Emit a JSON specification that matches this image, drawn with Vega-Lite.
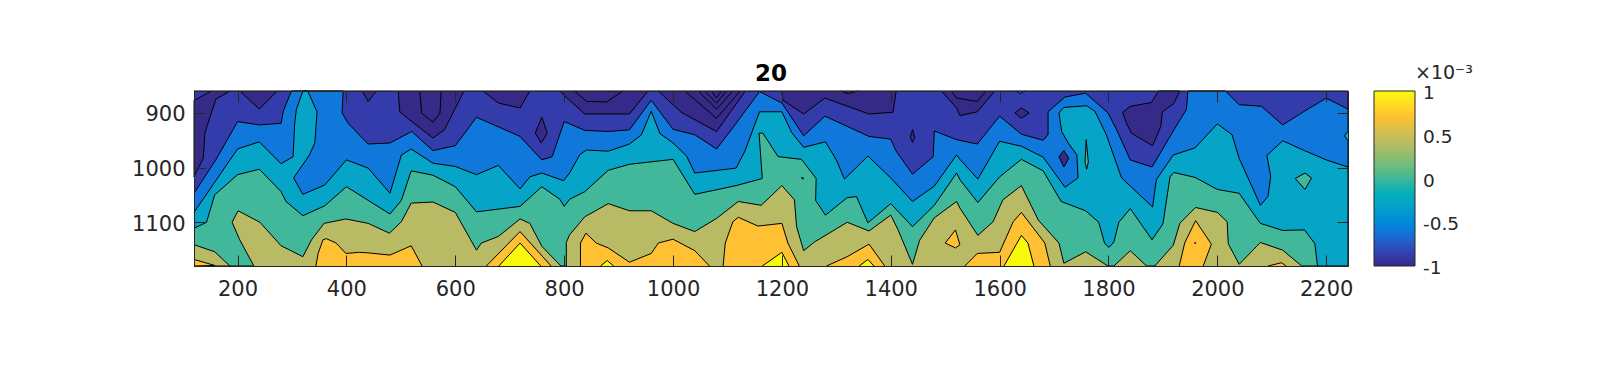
{"$schema":"https://vega.github.io/schema/vega-lite/v6.json","width":1154,"height":175,"autosize":{"type":"none"},"padding":{"left":194,"top":91,"right":249,"bottom":103},"background":"white",
"title":{"text":"20","font":"DejaVu Sans","fontSize":23,"fontWeight":"bold","color":"#000000","offset":-22},
"config":{"view":{"stroke":null},"axis":{"labelFont":"DejaVu Sans","labelColor":"#262626","domainColor":"#262626","tickColor":"#262626","grid":false,"title":null,"ticks":true,"tickWidth":1}},
"layer":[{"data":{"values":[
{"p":"bg","l":-0.88,"i":0,"x":120,"y":860},{"p":"bg","l":-0.88,"i":1,"x":2240,"y":860},{"p":"bg","l":-0.88,"i":2,"x":2240,"y":1180},{"p":"bg","l":-0.88,"i":3,"x":120,"y":1180},
{"p":"n1","l":-1,"i":0,"x":152,"y":860},{"p":"n1","l":-1,"i":1,"x":120,"y":877},{"p":"n1","l":-1,"i":2,"x":120,"y":1017},{"p":"n1","l":-1,"i":3,"x":137,"y":983},{"p":"n1","l":-1,"i":4,"x":140,"y":937},{"p":"n1","l":-1,"i":5,"x":160,"y":875},{"p":"n1","l":-1,"i":6,"x":186,"y":860},
{"p":"n2","l":-1,"i":0,"x":204,"y":860},{"p":"n2","l":-1,"i":1,"x":240,"y":893},{"p":"n2","l":-1,"i":2,"x":273,"y":860},
{"p":"n3","l":-1,"i":0,"x":429,"y":860},{"p":"n3","l":-1,"i":1,"x":440,"y":879},{"p":"n3","l":-1,"i":2,"x":455,"y":860},
{"p":"n4","l":-1,"i":0,"x":495,"y":860},{"p":"n4","l":-1,"i":1,"x":498,"y":898},{"p":"n4","l":-1,"i":2,"x":519,"y":915},{"p":"n4","l":-1,"i":3,"x":559,"y":946},{"p":"n4","l":-1,"i":4,"x":580,"y":931},{"p":"n4","l":-1,"i":5,"x":616,"y":860},
{"p":"n4b","l":-1,"i":0,"x":535,"y":860},{"p":"n4b","l":-1,"i":1,"x":538,"y":900},{"p":"n4b","l":-1,"i":2,"x":559,"y":917},{"p":"n4b","l":-1,"i":3,"x":572,"y":900},{"p":"n4b","l":-1,"i":4,"x":574,"y":860},
{"p":"n5","l":-1,"i":0,"x":651,"y":860},{"p":"n5","l":-1,"i":1,"x":679,"y":882},{"p":"n5","l":-1,"i":2,"x":719,"y":891},{"p":"n5","l":-1,"i":3,"x":737,"y":860},
{"p":"n6","l":-1,"i":0,"x":759,"y":908},{"p":"n6","l":-1,"i":1,"x":769,"y":937},{"p":"n6","l":-1,"i":2,"x":758,"y":955},{"p":"n6","l":-1,"i":3,"x":747,"y":937},{"p":"n6","l":-1,"i":4,"x":759,"y":908},
{"p":"n7","l":-1,"i":0,"x":792,"y":860},{"p":"n7","l":-1,"i":1,"x":810,"y":877},{"p":"n7","l":-1,"i":2,"x":838,"y":902},{"p":"n7","l":-1,"i":3,"x":920,"y":902},{"p":"n7","l":-1,"i":4,"x":954,"y":860},
{"p":"n7b","l":-1,"i":0,"x":819,"y":860},{"p":"n7b","l":-1,"i":1,"x":841,"y":879},{"p":"n7b","l":-1,"i":2,"x":878,"y":880},{"p":"n7b","l":-1,"i":3,"x":908,"y":860},
{"p":"n8","l":-1,"i":0,"x":973,"y":860},{"p":"n8","l":-1,"i":1,"x":1015,"y":899},{"p":"n8","l":-1,"i":2,"x":1080,"y":934},{"p":"n8","l":-1,"i":3,"x":1133,"y":860},
{"p":"n8b","l":-1,"i":0,"x":1022,"y":860},{"p":"n8b","l":-1,"i":1,"x":1080,"y":910},{"p":"n8b","l":-1,"i":2,"x":1123,"y":860},
{"p":"n8c","l":-1,"i":0,"x":1046,"y":860},{"p":"n8c","l":-1,"i":1,"x":1080,"y":893},{"p":"n8c","l":-1,"i":2,"x":1110,"y":860},
{"p":"n8d","l":-1,"i":0,"x":1058,"y":860},{"p":"n8d","l":-1,"i":1,"x":1080,"y":882},{"p":"n8d","l":-1,"i":2,"x":1098,"y":860},
{"p":"n8e","l":-1,"i":0,"x":1071,"y":860},{"p":"n8e","l":-1,"i":1,"x":1080,"y":873},{"p":"n8e","l":-1,"i":2,"x":1089,"y":860},
{"p":"n9","l":-1,"i":0,"x":1200,"y":860},{"p":"n9","l":-1,"i":1,"x":1202,"y":877},{"p":"n9","l":-1,"i":2,"x":1240,"y":902},{"p":"n9","l":-1,"i":3,"x":1279,"y":873},{"p":"n9","l":-1,"i":4,"x":1360,"y":902},{"p":"n9","l":-1,"i":5,"x":1404,"y":899},{"p":"n9","l":-1,"i":6,"x":1410,"y":860},
{"p":"n9b","l":-1,"i":0,"x":1309,"y":860},{"p":"n9b","l":-1,"i":1,"x":1322,"y":865},{"p":"n9b","l":-1,"i":2,"x":1340,"y":860},
{"p":"n10","l":-1,"i":0,"x":1440,"y":931},{"p":"n10","l":-1,"i":1,"x":1444,"y":945},{"p":"n10","l":-1,"i":2,"x":1440,"y":954},{"p":"n10","l":-1,"i":3,"x":1436,"y":945},{"p":"n10","l":-1,"i":4,"x":1440,"y":931},
{"p":"n11","l":-1,"i":0,"x":1493,"y":860},{"p":"n11","l":-1,"i":1,"x":1521,"y":891},{"p":"n11","l":-1,"i":2,"x":1527,"y":905},{"p":"n11","l":-1,"i":3,"x":1559,"y":898},{"p":"n11","l":-1,"i":4,"x":1591,"y":860},
{"p":"n11b","l":-1,"i":0,"x":1511,"y":860},{"p":"n11b","l":-1,"i":1,"x":1521,"y":873},{"p":"n11b","l":-1,"i":2,"x":1559,"y":879},{"p":"n11b","l":-1,"i":3,"x":1575,"y":860},
{"p":"n12","l":-1,"i":0,"x":1628,"y":900},{"p":"n12","l":-1,"i":1,"x":1640,"y":891},{"p":"n12","l":-1,"i":2,"x":1654,"y":900},{"p":"n12","l":-1,"i":3,"x":1640,"y":910},{"p":"n12","l":-1,"i":4,"x":1628,"y":900},
{"p":"n13","l":-1,"i":0,"x":1826,"y":899},{"p":"n13","l":-1,"i":1,"x":1840,"y":888},{"p":"n13","l":-1,"i":2,"x":1879,"y":881},{"p":"n13","l":-1,"i":3,"x":1892,"y":860},{"p":"n13","l":-1,"i":4,"x":1931,"y":860},{"p":"n13","l":-1,"i":5,"x":1920,"y":883},{"p":"n13","l":-1,"i":6,"x":1899,"y":898},{"p":"n13","l":-1,"i":7,"x":1896,"y":925},{"p":"n13","l":-1,"i":8,"x":1881,"y":960},{"p":"n13","l":-1,"i":9,"x":1842,"y":937},{"p":"n13","l":-1,"i":10,"x":1833,"y":919},{"p":"n13","l":-1,"i":11,"x":1826,"y":899},
{"p":"bi","l":-0.6,"i":0,"x":1631,"y":860},{"p":"bi","l":-0.6,"i":1,"x":1638,"y":865},{"p":"bi","l":-0.6,"i":2,"x":1646,"y":860},
{"p":"b","l":-0.6,"i":0,"x":120,"y":1047},{"p":"b","l":-0.6,"i":1,"x":160,"y":986},{"p":"b","l":-0.6,"i":2,"x":200,"y":916},{"p":"b","l":-0.6,"i":3,"x":240,"y":922},{"p":"b","l":-0.6,"i":4,"x":280,"y":919},{"p":"b","l":-0.6,"i":5,"x":284,"y":897},{"p":"b","l":-0.6,"i":6,"x":299,"y":860},{"p":"b","l":-0.6,"i":7,"x":394,"y":860},{"p":"b","l":-0.6,"i":8,"x":392,"y":900},{"p":"b","l":-0.6,"i":9,"x":403,"y":919},{"p":"b","l":-0.6,"i":10,"x":440,"y":957},{"p":"b","l":-0.6,"i":11,"x":480,"y":955},{"p":"b","l":-0.6,"i":12,"x":520,"y":934},{"p":"b","l":-0.6,"i":13,"x":559,"y":969},{"p":"b","l":-0.6,"i":14,"x":600,"y":960},{"p":"b","l":-0.6,"i":15,"x":639,"y":908},{"p":"b","l":-0.6,"i":16,"x":719,"y":943},{"p":"b","l":-0.6,"i":17,"x":759,"y":986},{"p":"b","l":-0.6,"i":18,"x":778,"y":980},{"p":"b","l":-0.6,"i":19,"x":800,"y":916},{"p":"b","l":-0.6,"i":20,"x":810,"y":920},{"p":"b","l":-0.6,"i":21,"x":838,"y":932},{"p":"b","l":-0.6,"i":22,"x":881,"y":934},{"p":"b","l":-0.6,"i":23,"x":920,"y":931},{"p":"b","l":-0.6,"i":24,"x":960,"y":877},{"p":"b","l":-0.6,"i":25,"x":1000,"y":930},{"p":"b","l":-0.6,"i":26,"x":1040,"y":940},{"p":"b","l":-0.6,"i":27,"x":1080,"y":966},{"p":"b","l":-0.6,"i":28,"x":1116,"y":919},{"p":"b","l":-0.6,"i":29,"x":1159,"y":861},{"p":"b","l":-0.6,"i":30,"x":1200,"y":882},{"p":"b","l":-0.6,"i":31,"x":1240,"y":942},{"p":"b","l":-0.6,"i":32,"x":1279,"y":906},{"p":"b","l":-0.6,"i":33,"x":1360,"y":943},{"p":"b","l":-0.6,"i":34,"x":1400,"y":948},{"p":"b","l":-0.6,"i":35,"x":1410,"y":970},{"p":"b","l":-0.6,"i":36,"x":1440,"y":1012},{"p":"b","l":-0.6,"i":37,"x":1478,"y":980},{"p":"b","l":-0.6,"i":38,"x":1480,"y":933},{"p":"b","l":-0.6,"i":39,"x":1521,"y":949},{"p":"b","l":-0.6,"i":40,"x":1559,"y":957},{"p":"b","l":-0.6,"i":41,"x":1600,"y":906},{"p":"b","l":-0.6,"i":42,"x":1640,"y":939},{"p":"b","l":-0.6,"i":43,"x":1680,"y":950},{"p":"b","l":-0.6,"i":44,"x":1689,"y":940},{"p":"b","l":-0.6,"i":45,"x":1689,"y":898},{"p":"b","l":-0.6,"i":46,"x":1720,"y":871},{"p":"b","l":-0.6,"i":47,"x":1758,"y":864},{"p":"b","l":-0.6,"i":48,"x":1799,"y":900},{"p":"b","l":-0.6,"i":49,"x":1815,"y":931},{"p":"b","l":-0.6,"i":50,"x":1840,"y":986},{"p":"b","l":-0.6,"i":51,"x":1880,"y":999},{"p":"b","l":-0.6,"i":52,"x":1922,"y":928},{"p":"b","l":-0.6,"i":53,"x":1943,"y":894},{"p":"b","l":-0.6,"i":54,"x":1946,"y":860},{"p":"b","l":-0.6,"i":55,"x":2015,"y":860},{"p":"b","l":-0.6,"i":56,"x":2040,"y":885},{"p":"b","l":-0.6,"i":57,"x":2081,"y":888},{"p":"b","l":-0.6,"i":58,"x":2120,"y":922},{"p":"b","l":-0.6,"i":59,"x":2160,"y":897},{"p":"b","l":-0.6,"i":60,"x":2200,"y":873},{"p":"b","l":-0.6,"i":61,"x":2240,"y":893},{"p":"b","l":-0.6,"i":62,"x":2240,"y":1180},{"p":"b","l":-0.6,"i":63,"x":120,"y":1180},
{"p":"n14","l":-1,"i":0,"x":1709,"y":980},{"p":"n14","l":-1,"i":1,"x":1718,"y":969},{"p":"n14","l":-1,"i":2,"x":1727,"y":983},{"p":"n14","l":-1,"i":3,"x":1718,"y":999},{"p":"n14","l":-1,"i":4,"x":1709,"y":980},
{"p":"t","l":-0.3,"i":0,"x":120,"y":1082},{"p":"t","l":-0.3,"i":1,"x":200,"y":966},{"p":"t","l":-0.3,"i":2,"x":240,"y":953},{"p":"t","l":-0.3,"i":3,"x":280,"y":993},{"p":"t","l":-0.3,"i":4,"x":302,"y":980},{"p":"t","l":-0.3,"i":5,"x":305,"y":919},{"p":"t","l":-0.3,"i":6,"x":308,"y":894},{"p":"t","l":-0.3,"i":7,"x":320,"y":860},{"p":"t","l":-0.3,"i":8,"x":329,"y":860},{"p":"t","l":-0.3,"i":9,"x":346,"y":898},{"p":"t","l":-0.3,"i":10,"x":342,"y":955},{"p":"t","l":-0.3,"i":11,"x":332,"y":977},{"p":"t","l":-0.3,"i":12,"x":303,"y":1019},{"p":"t","l":-0.3,"i":13,"x":320,"y":1049},{"p":"t","l":-0.3,"i":14,"x":360,"y":1032},{"p":"t","l":-0.3,"i":15,"x":400,"y":986},{"p":"t","l":-0.3,"i":16,"x":440,"y":1001},{"p":"t","l":-0.3,"i":17,"x":480,"y":1047},{"p":"t","l":-0.3,"i":18,"x":501,"y":977},{"p":"t","l":-0.3,"i":19,"x":519,"y":966},{"p":"t","l":-0.3,"i":20,"x":559,"y":992},{"p":"t","l":-0.3,"i":21,"x":600,"y":998},{"p":"t","l":-0.3,"i":22,"x":639,"y":1013},{"p":"t","l":-0.3,"i":23,"x":679,"y":996},{"p":"t","l":-0.3,"i":24,"x":719,"y":1039},{"p":"t","l":-0.3,"i":25,"x":737,"y":1017},{"p":"t","l":-0.3,"i":26,"x":759,"y":1010},{"p":"t","l":-0.3,"i":27,"x":799,"y":1024},{"p":"t","l":-0.3,"i":28,"x":810,"y":1010},{"p":"t","l":-0.3,"i":29,"x":829,"y":976},{"p":"t","l":-0.3,"i":30,"x":841,"y":968},{"p":"t","l":-0.3,"i":31,"x":881,"y":970},{"p":"t","l":-0.3,"i":32,"x":920,"y":957},{"p":"t","l":-0.3,"i":33,"x":942,"y":940},{"p":"t","l":-0.3,"i":34,"x":960,"y":897},{"p":"t","l":-0.3,"i":35,"x":976,"y":938},{"p":"t","l":-0.3,"i":36,"x":1000,"y":955},{"p":"t","l":-0.3,"i":37,"x":1025,"y":979},{"p":"t","l":-0.3,"i":38,"x":1040,"y":1010},{"p":"t","l":-0.3,"i":39,"x":1116,"y":1001},{"p":"t","l":-0.3,"i":40,"x":1132,"y":970},{"p":"t","l":-0.3,"i":41,"x":1159,"y":898},{"p":"t","l":-0.3,"i":42,"x":1200,"y":898},{"p":"t","l":-0.3,"i":43,"x":1218,"y":936},{"p":"t","l":-0.3,"i":44,"x":1240,"y":963},{"p":"t","l":-0.3,"i":45,"x":1280,"y":953},{"p":"t","l":-0.3,"i":46,"x":1300,"y":986},{"p":"t","l":-0.3,"i":47,"x":1315,"y":1021},{"p":"t","l":-0.3,"i":48,"x":1358,"y":979},{"p":"t","l":-0.3,"i":49,"x":1400,"y":1019},{"p":"t","l":-0.3,"i":50,"x":1440,"y":1062},{"p":"t","l":-0.3,"i":51,"x":1480,"y":1034},{"p":"t","l":-0.3,"i":52,"x":1521,"y":977},{"p":"t","l":-0.3,"i":53,"x":1527,"y":985},{"p":"t","l":-0.3,"i":54,"x":1560,"y":1021},{"p":"t","l":-0.3,"i":55,"x":1600,"y":952},{"p":"t","l":-0.3,"i":56,"x":1640,"y":961},{"p":"t","l":-0.3,"i":57,"x":1680,"y":981},{"p":"t","l":-0.3,"i":58,"x":1720,"y":1036},{"p":"t","l":-0.3,"i":59,"x":1744,"y":1019},{"p":"t","l":-0.3,"i":60,"x":1742,"y":977},{"p":"t","l":-0.3,"i":61,"x":1726,"y":955},{"p":"t","l":-0.3,"i":62,"x":1714,"y":934},{"p":"t","l":-0.3,"i":63,"x":1709,"y":900},{"p":"t","l":-0.3,"i":64,"x":1718,"y":890},{"p":"t","l":-0.3,"i":65,"x":1760,"y":887},{"p":"t","l":-0.3,"i":66,"x":1775,"y":897},{"p":"t","l":-0.3,"i":67,"x":1796,"y":940},{"p":"t","l":-0.3,"i":68,"x":1824,"y":1019},{"p":"t","l":-0.3,"i":69,"x":1881,"y":1072},{"p":"t","l":-0.3,"i":70,"x":1888,"y":1022},{"p":"t","l":-0.3,"i":71,"x":1919,"y":977},{"p":"t","l":-0.3,"i":72,"x":1959,"y":964},{"p":"t","l":-0.3,"i":73,"x":2000,"y":920},{"p":"t","l":-0.3,"i":74,"x":2027,"y":940},{"p":"t","l":-0.3,"i":75,"x":2040,"y":983},{"p":"t","l":-0.3,"i":76,"x":2079,"y":1069},{"p":"t","l":-0.3,"i":77,"x":2093,"y":1053},{"p":"t","l":-0.3,"i":78,"x":2098,"y":1016},{"p":"t","l":-0.3,"i":79,"x":2091,"y":978},{"p":"t","l":-0.3,"i":80,"x":2120,"y":951},{"p":"t","l":-0.3,"i":81,"x":2160,"y":969},{"p":"t","l":-0.3,"i":82,"x":2200,"y":986},{"p":"t","l":-0.3,"i":83,"x":2240,"y":999},{"p":"t","l":-0.3,"i":84,"x":2240,"y":1180},{"p":"t","l":-0.3,"i":85,"x":120,"y":1180},
{"p":"ti","l":-0.3,"i":0,"x":2240,"y":934},{"p":"ti","l":-0.3,"i":1,"x":2233,"y":942},{"p":"ti","l":-0.3,"i":2,"x":2240,"y":950},
{"p":"g","l":0,"i":0,"x":120,"y":1111},{"p":"g","l":0,"i":1,"x":143,"y":1100},{"p":"g","l":0,"i":2,"x":158,"y":1050},{"p":"g","l":0,"i":3,"x":200,"y":1013},{"p":"g","l":0,"i":4,"x":240,"y":1003},{"p":"g","l":0,"i":5,"x":280,"y":1044},{"p":"g","l":0,"i":6,"x":289,"y":1062},{"p":"g","l":0,"i":7,"x":320,"y":1088},{"p":"g","l":0,"i":8,"x":360,"y":1070},{"p":"g","l":0,"i":9,"x":400,"y":1035},{"p":"g","l":0,"i":10,"x":480,"y":1085},{"p":"g","l":0,"i":11,"x":501,"y":1060},{"p":"g","l":0,"i":12,"x":519,"y":1006},{"p":"g","l":0,"i":13,"x":559,"y":1014},{"p":"g","l":0,"i":14,"x":600,"y":1035},{"p":"g","l":0,"i":15,"x":639,"y":1081},{"p":"g","l":0,"i":16,"x":719,"y":1071},{"p":"g","l":0,"i":17,"x":759,"y":1035},{"p":"g","l":0,"i":18,"x":792,"y":1058},{"p":"g","l":0,"i":19,"x":800,"y":1071},{"p":"g","l":0,"i":20,"x":810,"y":1058},{"p":"g","l":0,"i":21,"x":838,"y":1044},{"p":"g","l":0,"i":22,"x":881,"y":1005},{"p":"g","l":0,"i":23,"x":920,"y":994},{"p":"g","l":0,"i":24,"x":1000,"y":985},{"p":"g","l":0,"i":25,"x":1040,"y":1049},{"p":"g","l":0,"i":26,"x":1116,"y":1033},{"p":"g","l":0,"i":27,"x":1164,"y":1020},{"p":"g","l":0,"i":28,"x":1158,"y":937},{"p":"g","l":0,"i":29,"x":1165,"y":937},{"p":"g","l":0,"i":30,"x":1193,"y":980},{"p":"g","l":0,"i":31,"x":1236,"y":985},{"p":"g","l":0,"i":32,"x":1263,"y":1020},{"p":"g","l":0,"i":33,"x":1262,"y":1060},{"p":"g","l":0,"i":34,"x":1280,"y":1087},{"p":"g","l":0,"i":35,"x":1320,"y":1055},{"p":"g","l":0,"i":36,"x":1337,"y":1053},{"p":"g","l":0,"i":37,"x":1358,"y":1101},{"p":"g","l":0,"i":38,"x":1400,"y":1066},{"p":"g","l":0,"i":39,"x":1440,"y":1108},{"p":"g","l":0,"i":40,"x":1480,"y":1069},{"p":"g","l":0,"i":41,"x":1521,"y":1010},{"p":"g","l":0,"i":42,"x":1527,"y":1022},{"p":"g","l":0,"i":43,"x":1560,"y":1064},{"p":"g","l":0,"i":44,"x":1600,"y":1017},{"p":"g","l":0,"i":45,"x":1640,"y":985},{"p":"g","l":0,"i":46,"x":1680,"y":1006},{"p":"g","l":0,"i":47,"x":1713,"y":1062},{"p":"g","l":0,"i":48,"x":1758,"y":1079},{"p":"g","l":0,"i":49,"x":1782,"y":1100},{"p":"g","l":0,"i":50,"x":1793,"y":1139},{"p":"g","l":0,"i":51,"x":1801,"y":1146},{"p":"g","l":0,"i":52,"x":1810,"y":1136},{"p":"g","l":0,"i":53,"x":1819,"y":1100},{"p":"g","l":0,"i":54,"x":1840,"y":1075},{"p":"g","l":0,"i":55,"x":1880,"y":1132},{"p":"g","l":0,"i":56,"x":1900,"y":1103},{"p":"g","l":0,"i":57,"x":1913,"y":1017},{"p":"g","l":0,"i":58,"x":1920,"y":1009},{"p":"g","l":0,"i":59,"x":1959,"y":1018},{"p":"g","l":0,"i":60,"x":2000,"y":1040},{"p":"g","l":0,"i":61,"x":2040,"y":1047},{"p":"g","l":0,"i":62,"x":2079,"y":1102},{"p":"g","l":0,"i":63,"x":2120,"y":1115},{"p":"g","l":0,"i":64,"x":2160,"y":1114},{"p":"g","l":0,"i":65,"x":2179,"y":1139},{"p":"g","l":0,"i":66,"x":2184,"y":1180},{"p":"g","l":0,"i":67,"x":120,"y":1180},
{"p":"g2","l":0,"i":0,"x":2143,"y":1020},{"p":"g2","l":0,"i":1,"x":2161,"y":1010},{"p":"g2","l":0,"i":2,"x":2173,"y":1019},{"p":"g2","l":0,"i":3,"x":2161,"y":1040},{"p":"g2","l":0,"i":4,"x":2143,"y":1020},
{"p":"g3","l":0,"i":0,"x":1759,"y":949},{"p":"g3","l":0,"i":1,"x":1763,"y":990},{"p":"g3","l":0,"i":2,"x":1760,"y":1003},{"p":"g3","l":0,"i":3,"x":1757,"y":990},{"p":"g3","l":0,"i":4,"x":1759,"y":949},
{"p":"t2","l":-0.3,"i":0,"x":1236,"y":1019},{"p":"t2","l":-0.3,"i":1,"x":1238,"y":1018},{"p":"t2","l":-0.3,"i":2,"x":1240,"y":1021},{"p":"t2","l":-0.3,"i":3,"x":1236,"y":1019},
{"p":"o1","l":0.4,"i":0,"x":120,"y":1141},{"p":"o1","l":0.4,"i":1,"x":158,"y":1154},{"p":"o1","l":0.4,"i":2,"x":186,"y":1180},{"p":"o1","l":0.4,"i":3,"x":120,"y":1180},
{"p":"o2","l":0.4,"i":0,"x":230,"y":1180},{"p":"o2","l":0.4,"i":1,"x":204,"y":1132},{"p":"o2","l":0.4,"i":2,"x":190,"y":1100},{"p":"o2","l":0.4,"i":3,"x":201,"y":1079},{"p":"o2","l":0.4,"i":4,"x":241,"y":1100},{"p":"o2","l":0.4,"i":5,"x":280,"y":1143},{"p":"o2","l":0.4,"i":6,"x":320,"y":1163},{"p":"o2","l":0.4,"i":7,"x":336,"y":1132},{"p":"o2","l":0.4,"i":8,"x":359,"y":1102},{"p":"o2","l":0.4,"i":9,"x":399,"y":1094},{"p":"o2","l":0.4,"i":10,"x":440,"y":1102},{"p":"o2","l":0.4,"i":11,"x":479,"y":1120},{"p":"o2","l":0.4,"i":12,"x":501,"y":1099},{"p":"o2","l":0.4,"i":13,"x":519,"y":1065},{"p":"o2","l":0.4,"i":14,"x":559,"y":1063},{"p":"o2","l":0.4,"i":15,"x":600,"y":1082},{"p":"o2","l":0.4,"i":16,"x":639,"y":1151},{"p":"o2","l":0.4,"i":17,"x":648,"y":1138},{"p":"o2","l":0.4,"i":18,"x":679,"y":1126},{"p":"o2","l":0.4,"i":19,"x":719,"y":1094},{"p":"o2","l":0.4,"i":20,"x":737,"y":1102},{"p":"o2","l":0.4,"i":21,"x":759,"y":1144},{"p":"o2","l":0.4,"i":22,"x":794,"y":1180},
{"p":"o3","l":0.4,"i":0,"x":804,"y":1180},{"p":"o3","l":0.4,"i":1,"x":804,"y":1137},{"p":"o3","l":0.4,"i":2,"x":810,"y":1123},{"p":"o3","l":0.4,"i":3,"x":838,"y":1090},{"p":"o3","l":0.4,"i":4,"x":881,"y":1066},{"p":"o3","l":0.4,"i":5,"x":920,"y":1079},{"p":"o3","l":0.4,"i":6,"x":960,"y":1079},{"p":"o3","l":0.4,"i":7,"x":1000,"y":1102},{"p":"o3","l":0.4,"i":8,"x":1040,"y":1117},{"p":"o3","l":0.4,"i":9,"x":1080,"y":1093},{"p":"o3","l":0.4,"i":10,"x":1120,"y":1062},{"p":"o3","l":0.4,"i":11,"x":1162,"y":1069},{"p":"o3","l":0.4,"i":12,"x":1200,"y":1033},{"p":"o3","l":0.4,"i":13,"x":1223,"y":1059},{"p":"o3","l":0.4,"i":14,"x":1227,"y":1108},{"p":"o3","l":0.4,"i":15,"x":1240,"y":1152},{"p":"o3","l":0.4,"i":16,"x":1260,"y":1136},{"p":"o3","l":0.4,"i":17,"x":1320,"y":1100},{"p":"o3","l":0.4,"i":18,"x":1360,"y":1116},{"p":"o3","l":0.4,"i":19,"x":1400,"y":1087},{"p":"o3","l":0.4,"i":20,"x":1413,"y":1113},{"p":"o3","l":0.4,"i":21,"x":1440,"y":1177},{"p":"o3","l":0.4,"i":22,"x":1453,"y":1133},{"p":"o3","l":0.4,"i":23,"x":1480,"y":1092},{"p":"o3","l":0.4,"i":24,"x":1521,"y":1062},{"p":"o3","l":0.4,"i":25,"x":1527,"y":1074},{"p":"o3","l":0.4,"i":26,"x":1560,"y":1124},{"p":"o3","l":0.4,"i":27,"x":1588,"y":1099},{"p":"o3","l":0.4,"i":28,"x":1606,"y":1059},{"p":"o3","l":0.4,"i":29,"x":1640,"y":1033},{"p":"o3","l":0.4,"i":30,"x":1671,"y":1096},{"p":"o3","l":0.4,"i":31,"x":1709,"y":1138},{"p":"o3","l":0.4,"i":32,"x":1718,"y":1175},{"p":"o3","l":0.4,"i":33,"x":1758,"y":1154},{"p":"o3","l":0.4,"i":34,"x":1799,"y":1180},
{"p":"o4","l":0.4,"i":0,"x":1810,"y":1180},{"p":"o4","l":0.4,"i":1,"x":1840,"y":1152},{"p":"o4","l":0.4,"i":2,"x":1870,"y":1180},
{"p":"o5","l":0.4,"i":0,"x":1885,"y":1180},{"p":"o5","l":0.4,"i":1,"x":1919,"y":1142},{"p":"o5","l":0.4,"i":2,"x":1931,"y":1102},{"p":"o5","l":0.4,"i":3,"x":1960,"y":1073},{"p":"o5","l":0.4,"i":4,"x":2000,"y":1082},{"p":"o5","l":0.4,"i":5,"x":2018,"y":1099},{"p":"o5","l":0.4,"i":6,"x":2020,"y":1139},{"p":"o5","l":0.4,"i":7,"x":2040,"y":1177},{"p":"o5","l":0.4,"i":8,"x":2079,"y":1137},{"p":"o5","l":0.4,"i":9,"x":2120,"y":1151},{"p":"o5","l":0.4,"i":10,"x":2155,"y":1180},
{"p":"r1","l":0.7,"i":0,"x":120,"y":1168},{"p":"r1","l":0.7,"i":1,"x":158,"y":1179},{"p":"r1","l":0.7,"i":2,"x":120,"y":1180},
{"p":"r2","l":0.7,"i":0,"x":344,"y":1180},{"p":"r2","l":0.7,"i":1,"x":348,"y":1157},{"p":"r2","l":0.7,"i":2,"x":357,"y":1132},{"p":"r2","l":0.7,"i":3,"x":363,"y":1130},{"p":"r2","l":0.7,"i":4,"x":381,"y":1138},{"p":"r2","l":0.7,"i":5,"x":399,"y":1157},{"p":"r2","l":0.7,"i":6,"x":424,"y":1155},{"p":"r2","l":0.7,"i":7,"x":440,"y":1156},{"p":"r2","l":0.7,"i":8,"x":480,"y":1160},{"p":"r2","l":0.7,"i":9,"x":519,"y":1143},{"p":"r2","l":0.7,"i":10,"x":539,"y":1180},
{"p":"r3","l":0.7,"i":0,"x":657,"y":1180},{"p":"r3","l":0.7,"i":1,"x":719,"y":1117},{"p":"r3","l":0.7,"i":2,"x":776,"y":1180},
{"p":"r4","l":0.7,"i":0,"x":830,"y":1180},{"p":"r4","l":0.7,"i":1,"x":830,"y":1138},{"p":"r4","l":0.7,"i":2,"x":840,"y":1120},{"p":"r4","l":0.7,"i":3,"x":859,"y":1138},{"p":"r4","l":0.7,"i":4,"x":881,"y":1147},{"p":"r4","l":0.7,"i":5,"x":920,"y":1173},{"p":"r4","l":0.7,"i":6,"x":960,"y":1157},{"p":"r4","l":0.7,"i":7,"x":973,"y":1138},{"p":"r4","l":0.7,"i":8,"x":1000,"y":1131},{"p":"r4","l":0.7,"i":9,"x":1040,"y":1152},{"p":"r4","l":0.7,"i":10,"x":1067,"y":1180},
{"p":"r5","l":0.7,"i":0,"x":1092,"y":1180},{"p":"r5","l":0.7,"i":1,"x":1096,"y":1138},{"p":"r5","l":0.7,"i":2,"x":1110,"y":1099},{"p":"r5","l":0.7,"i":3,"x":1120,"y":1091},{"p":"r5","l":0.7,"i":4,"x":1156,"y":1107},{"p":"r5","l":0.7,"i":5,"x":1200,"y":1102},{"p":"r5","l":0.7,"i":6,"x":1211,"y":1138},{"p":"r5","l":0.7,"i":7,"x":1232,"y":1180},
{"p":"r6","l":0.7,"i":0,"x":1282,"y":1180},{"p":"r6","l":0.7,"i":1,"x":1320,"y":1163},{"p":"r6","l":0.7,"i":2,"x":1360,"y":1140},{"p":"r6","l":0.7,"i":3,"x":1389,"y":1180},
{"p":"r7","l":0.7,"i":0,"x":1500,"y":1138},{"p":"r7","l":0.7,"i":1,"x":1519,"y":1114},{"p":"r7","l":0.7,"i":2,"x":1527,"y":1141},{"p":"r7","l":0.7,"i":3,"x":1519,"y":1147},{"p":"r7","l":0.7,"i":4,"x":1500,"y":1138},
{"p":"r8","l":0.7,"i":0,"x":1536,"y":1180},{"p":"r8","l":0.7,"i":1,"x":1559,"y":1157},{"p":"r8","l":0.7,"i":2,"x":1600,"y":1155},{"p":"r8","l":0.7,"i":3,"x":1625,"y":1099},{"p":"r8","l":0.7,"i":4,"x":1640,"y":1082},{"p":"r8","l":0.7,"i":5,"x":1683,"y":1138},{"p":"r8","l":0.7,"i":6,"x":1693,"y":1180},
{"p":"r9","l":0.7,"i":0,"x":1930,"y":1180},{"p":"r9","l":0.7,"i":1,"x":1940,"y":1138},{"p":"r9","l":0.7,"i":2,"x":1960,"y":1097},{"p":"r9","l":0.7,"i":3,"x":1989,"y":1140},{"p":"r9","l":0.7,"i":4,"x":1974,"y":1180},
{"p":"r10","l":0.7,"i":0,"x":2093,"y":1180},{"p":"r10","l":0.7,"i":1,"x":2118,"y":1174},{"p":"r10","l":0.7,"i":2,"x":2126,"y":1180},
{"p":"y1","l":1,"i":0,"x":680,"y":1180},{"p":"y1","l":1,"i":1,"x":719,"y":1138},{"p":"y1","l":1,"i":2,"x":757,"y":1180},
{"p":"y2","l":1,"i":0,"x":867,"y":1180},{"p":"y2","l":1,"i":1,"x":879,"y":1170},{"p":"y2","l":1,"i":2,"x":891,"y":1180},
{"p":"y3","l":1,"i":0,"x":1164,"y":1180},{"p":"y3","l":1,"i":1,"x":1200,"y":1155},{"p":"y3","l":1,"i":2,"x":1213,"y":1180},
{"p":"y4","l":1,"i":0,"x":1342,"y":1180},{"p":"y4","l":1,"i":1,"x":1358,"y":1168},{"p":"y4","l":1,"i":2,"x":1369,"y":1180},
{"p":"y5","l":1,"i":0,"x":1608,"y":1180},{"p":"y5","l":1,"i":1,"x":1640,"y":1124},{"p":"y5","l":1,"i":2,"x":1652,"y":1138},{"p":"y5","l":1,"i":3,"x":1663,"y":1180},
{"p":"y6","l":1,"i":0,"x":1958,"y":1138},{"p":"y6","l":1,"i":1,"x":1960,"y":1137},{"p":"y6","l":1,"i":2,"x":1960,"y":1139},{"p":"y6","l":1,"i":3,"x":1958,"y":1138}
]},
"mark":{"type":"line","stroke":"#000000","strokeWidth":1,"strokeJoin":"miter"},
"encoding":{
"x":{"field":"x","type":"quantitative","scale":{"domain":[120,2240],"nice":false,"zero":false},"axis":{"orient":"bottom","zindex":1,"values":[200,400,600,800,1000,1200,1400,1600,1800,2000,2200],"format":"d","labelFontSize":21,"labelPadding":23,"tickSize":-11,"labelFlush":false}},
"y":{"field":"y","type":"quantitative","scale":{"domain":[1180,860],"nice":false,"zero":false},"axis":{"orient":"left","zindex":1,"values":[900,1000,1100],"labelFontSize":21,"labelPadding":20,"labelOffset":2,"tickSize":-11,"format":"d"}},
"order":{"field":"i","type":"quantitative"},
"detail":{"field":"p","type":"nominal"},
"fill":{"field":"l","type":"quantitative","scale":{"domain":[-1,-0.88,-0.6,-0.3,0,0.4,0.7,1],"range":["#352A87","#343CAC","#1178DB","#06A5C8","#41B899","#B8BB63","#FFC033","#F8FA0D"]},
"legend":{"type":"gradient","orient":"none","legendX":1180,"legendY":-27,"direction":"vertical","gradientLength":175,"gradientThickness":41,"gradientStrokeColor":"#262626","gradientStrokeWidth":1,"values":[-1,-0.5,0,0.5,1],"labelExpr":"''+datum.value","labelFont":"DejaVu Sans","labelFontSize":18.5,"labelColor":"#262626","labelOffset":8,"title":"×10⁻³","titleFont":"DejaVu Sans","titleFontSize":19,"titleFontWeight":"normal","titleColor":"#262626","titlePadding":8,"titleAnchor":"start","encode":{"title":{"update":{"dx":{"value":41}}},"labels":{"update":{"baseline":{"value":"middle"},"dy":{"value":2}}}}}}
}},
{"data":{"values":[{"x":120,"y":860},{"x":2240,"y":1180}]},
"mark":{"type":"point","opacity":0},
"encoding":{
"x":{"field":"x","type":"quantitative","axis":{"orient":"top","zindex":1,"values":[200,400,600,800,1000,1200,1400,1600,1800,2000,2200],"labels":false,"tickSize":-11}},
"y":{"field":"y","type":"quantitative","axis":{"orient":"right","zindex":1,"values":[900,1000,1100],"labels":false,"tickSize":-11}}
}}],
"resolve":{"axis":{"x":"independent","y":"independent"}}
}
